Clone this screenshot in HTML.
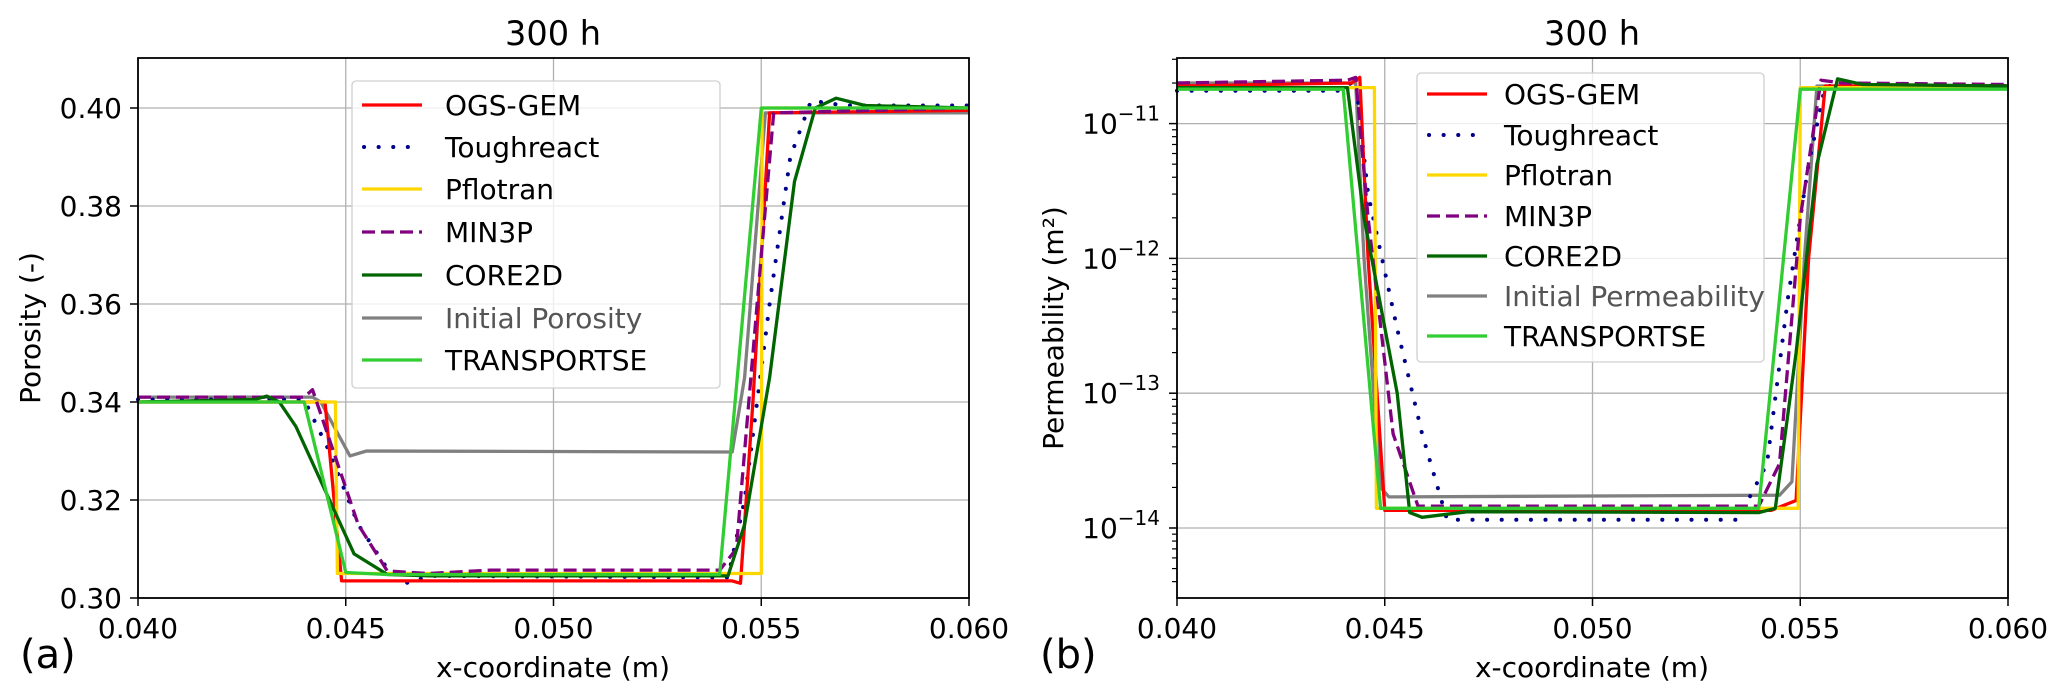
<!DOCTYPE html>
<html><head><meta charset="utf-8"><style>
html,body{margin:0;padding:0;background:#fff;}
svg{display:block;font-family:"DejaVu Sans","Liberation Sans",sans-serif;}
</style></head><body>
<svg id="s" width="2067" height="699" viewBox="0 0 2067 699" xmlns="http://www.w3.org/2000/svg"></svg>
<script>
const S=document.getElementById('s');let h='';
function X1(x){return 138+(x-40)*41.55;}
function X2(x){return 1177+(x-40)*41.55;}
function Y1(v){return 598-(v-0.30)*4900;}
function Y2(v){return 528-(Math.log10(v)+14)*134.8;}
const DOT='0.1,14.5',DASH='13,6';
function pl(pts,fx,fy,c,w,dash){let d=pts.map(p=>fx(p[0]).toFixed(1)+','+fy(p[1]).toFixed(1)).join(' ');
let cap=dash===DOT?'stroke-linecap="round"':'';
h+=`<polyline points="${d}" fill="none" stroke="${c}" stroke-width="${dash===DOT?4:w}" ${cap} ${dash?'stroke-dasharray="'+dash+'"':''} stroke-linejoin="round"/>`;}
function axes(x0,x1,fx,yt,fy){
 for(let i=0;i<=4;i++){let x=fx(40+5*i);h+=`<line x1="${x}" y1="58" x2="${x}" y2="598" stroke="#b0b0b0" stroke-width="1.3"/>`;}
 yt.forEach(v=>{let y=fy(v);h+=`<line x1="${x0}" y1="${y}" x2="${x1}" y2="${y}" stroke="#b0b0b0" stroke-width="1.3"/>`;});
}
axes(138,969,X1,[0.30,0.32,0.34,0.36,0.38,0.40],Y1);
axes(1177,2008,X2,[1e-14,1e-13,1e-12,1e-11],Y2);
const C={red:'#ff0000',blue:'#00008b',gold:'#ffd700',purple:'#800080',dg:'#006400',gray:'#808080',lg:'#32cd32'};
pl([[40,0.341],[44.2,0.341],[44.4,0.340],[45.1,0.329],[45.5,0.330],[54.3,0.3298],[54.6,0.345],[55.1,0.399],[60,0.399]],X1,Y1,C.gray,3.3);
pl([[40,0.3405],[44.0,0.3405],[44.6,0.33],[45.3,0.315],[46.0,0.306],[46.5,0.303],[47,0.3045],[54.2,0.3042],[54.6,0.32],[55.2,0.36],[55.7,0.39],[56.2,0.4015],[57,0.4005],[60,0.4005]],X1,Y1,C.blue,3.3,DOT);
pl([[40,0.340],[44.5,0.340],[44.9,0.3035],[54.3,0.3035],[54.5,0.303],[54.8,0.34],[55.2,0.399],[60,0.3995]],X1,Y1,C.red,3.3);
pl([[40,0.340],[44.75,0.340],[44.8,0.305],[55.0,0.305],[55.02,0.400],[60,0.400]],X1,Y1,C.gold,3.3);
pl([[40,0.341],[44.0,0.341],[44.2,0.3425],[44.5,0.335],[45.3,0.315],[46,0.3055],[47,0.305],[48.5,0.3057],[54.0,0.3057],[54.4,0.31],[55.0,0.37],[55.3,0.399],[60,0.400]],X1,Y1,C.purple,3.3,DASH);
pl([[40,0.340],[42.8,0.3405],[43.1,0.3412],[43.4,0.340],[43.8,0.335],[44.5,0.322],[45.2,0.309],[46,0.3048],[47,0.3045],[54.2,0.3045],[54.6,0.315],[55.2,0.345],[55.8,0.385],[56.3,0.400],[56.8,0.402],[57.5,0.4005],[60,0.400]],X1,Y1,C.dg,3.3);
pl([[40,0.340],[44.0,0.340],[45.0,0.3052],[46,0.3048],[54.0,0.3048],[55.0,0.400],[60,0.400]],X1,Y1,C.lg,3.3);
// right
pl([[40,2.0e-11],[44.3,2.0e-11],[44.5,1e-12],[44.9,2e-14],[45.1,1.7e-14],[54.5,1.75e-14],[54.8,2.2e-14],[55.1,1e-12],[55.4,1.9e-11],[60,1.9e-11]],X2,Y2,C.gray,3.3);
pl([[40,1.75e-11],[43.9,1.75e-11],[44.3,2.1e-11],[44.6,3e-12],[45.3,3e-13],[45.9,5e-14],[46.5,1.15e-14],[53.5,1.15e-14],[54.2,3e-14],[54.7,5e-13],[55.2,5e-12],[55.6,1.9e-11],[60,1.9e-11]],X2,Y2,C.blue,3.3,DOT);
pl([[40,1.9e-11],[44.2,2.0e-11],[44.4,2.2e-11],[44.6,1e-12],[45.0,1.35e-14],[54.3,1.35e-14],[54.9,1.6e-14],[55.2,1e-12],[55.6,1.9e-11],[60,1.9e-11]],X2,Y2,C.red,3.3);
pl([[40,1.85e-11],[44.75,1.85e-11],[44.8,1.4e-14],[54.95,1.4e-14],[55.0,1.85e-11],[60,1.85e-11]],X2,Y2,C.gold,3.3);
pl([[40,2.0e-11],[44.1,2.1e-11],[44.3,2.2e-11],[44.6,2e-12],[45.2,5e-14],[45.8,1.45e-14],[54.0,1.45e-14],[54.5,3e-14],[55.0,2e-12],[55.5,2.1e-11],[56,2.0e-11],[60,1.95e-11]],X2,Y2,C.purple,3.3,DASH);
pl([[40,1.85e-11],[44.1,1.85e-11],[44.5,2e-12],[45.3,1e-13],[45.6,1.3e-14],[45.9,1.2e-14],[47,1.32e-14],[54.0,1.3e-14],[54.4,1.4e-14],[54.9,2e-13],[55.4,5e-12],[55.9,2.15e-11],[56.5,1.95e-11],[60,1.9e-11]],X2,Y2,C.dg,3.3);
pl([[40,1.8e-11],[44.0,1.8e-11],[44.9,1.4e-14],[54.0,1.4e-14],[55.0,1.8e-11],[60,1.8e-11]],X2,Y2,C.lg,3.3);
function frame(x0,x1){h+=`<rect x="${x0}" y="58" width="${x1-x0}" height="540" fill="none" stroke="#000" stroke-width="1.8"/>`;}
frame(138,969);frame(1177,2008);
const xl=['0.040','0.045','0.050','0.055','0.060'];
[X1,X2].forEach(fx=>{for(let i=0;i<5;i++){let x=fx(40+5*i);h+=`<line x1="${x}" y1="598" x2="${x}" y2="606" stroke="#000" stroke-width="1.5"/><text x="${x}" y="638" font-size="28" text-anchor="middle">${xl[i]}</text>`;}});
['0.30','0.32','0.34','0.36','0.38','0.40'].forEach(t=>{let y=Y1(+t);h+=`<line x1="130" y1="${y}" x2="138" y2="${y}" stroke="#000" stroke-width="1.5"/><text x="122" y="${y+10}" font-size="28" text-anchor="end">${t}</text>`;});
[-14,-13,-12,-11].forEach(e=>{let y=Y2(Math.pow(10,e));h+=`<line x1="1169" y1="${y}" x2="1177" y2="${y}" stroke="#000" stroke-width="1.5"/><text x="1160" y="${y+10}" font-size="28" text-anchor="end">10<tspan dy="-13" font-size="20">−${-e}</tspan></text>`;});
for(let e=-15;e<=-11;e++)for(let m=2;m<=9;m++){let v=m*Math.pow(10,e);let y=Y2(v);if(y>=58&&y<=598)h+=`<line x1="1172" y1="${y}" x2="1177" y2="${y}" stroke="#000" stroke-width="1.2"/>`;}
h+=`<text x="553" y="45" font-size="33.6" text-anchor="middle">300 h</text><text x="1592" y="45" font-size="33.6" text-anchor="middle">300 h</text>`;
h+=`<text x="553" y="677" font-size="28" text-anchor="middle">x-coordinate (m)</text><text x="1592" y="677" font-size="28" text-anchor="middle">x-coordinate (m)</text>`;
h+=`<text transform="translate(40,328) rotate(-90)" font-size="28" text-anchor="middle">Porosity (-)</text>`;
h+=`<text transform="translate(1063,328) rotate(-90)" font-size="28" text-anchor="middle">Permeability (m²)</text>`;
h+=`<text x="20" y="668" font-size="40">(a)</text><text x="1040" y="668" font-size="40">(b)</text>`;
function legend(x0,y0,w,hh,lx,tx,rows){
 h+=`<rect x="${x0}" y="${y0}" width="${w}" height="${hh}" rx="4" fill="#fff" fill-opacity="0.8" stroke="#d0d0d0" stroke-width="1.3"/>`;
 rows.forEach(r=>{let dot=r[3]===DOT;h+=`<line x1="${lx+(dot?2:0)}" y1="${r[0]}" x2="${lx+60}" y2="${r[0]}" stroke="${r[2]}" stroke-width="${dot?4:3.3}" ${dot?'stroke-linecap="round"':''} ${r[3]?'stroke-dasharray="'+r[3]+'"':''}/><text x="${tx}" y="${r[0]+10}" font-size="28" fill="${r[4]||'#000'}">${r[1]}</text>`;});
}
const L=[['OGS-GEM',C.red],['Toughreact',C.blue,DOT],['Pflotran',C.gold],['MIN3P',C.purple,DASH],['CORE2D',C.dg],['Initial Porosity',C.gray,null,'#555'],['TRANSPORTSE',C.lg]];
let ly=[105,147,189,232,275,318,360];
legend(352,81,368,307,362,445,L.map((l,i)=>[ly[i],l[0],l[1],l[2],l[3]]));
let ry=[94,135,175,216,256,296,336];
legend(1417,73,347,289,1427,1504,L.map((l,i)=>[ry[i],i==5?'Initial Permeability':l[0],l[1],l[2],l[3]]));
S.innerHTML=h;
</script>
</body></html>
